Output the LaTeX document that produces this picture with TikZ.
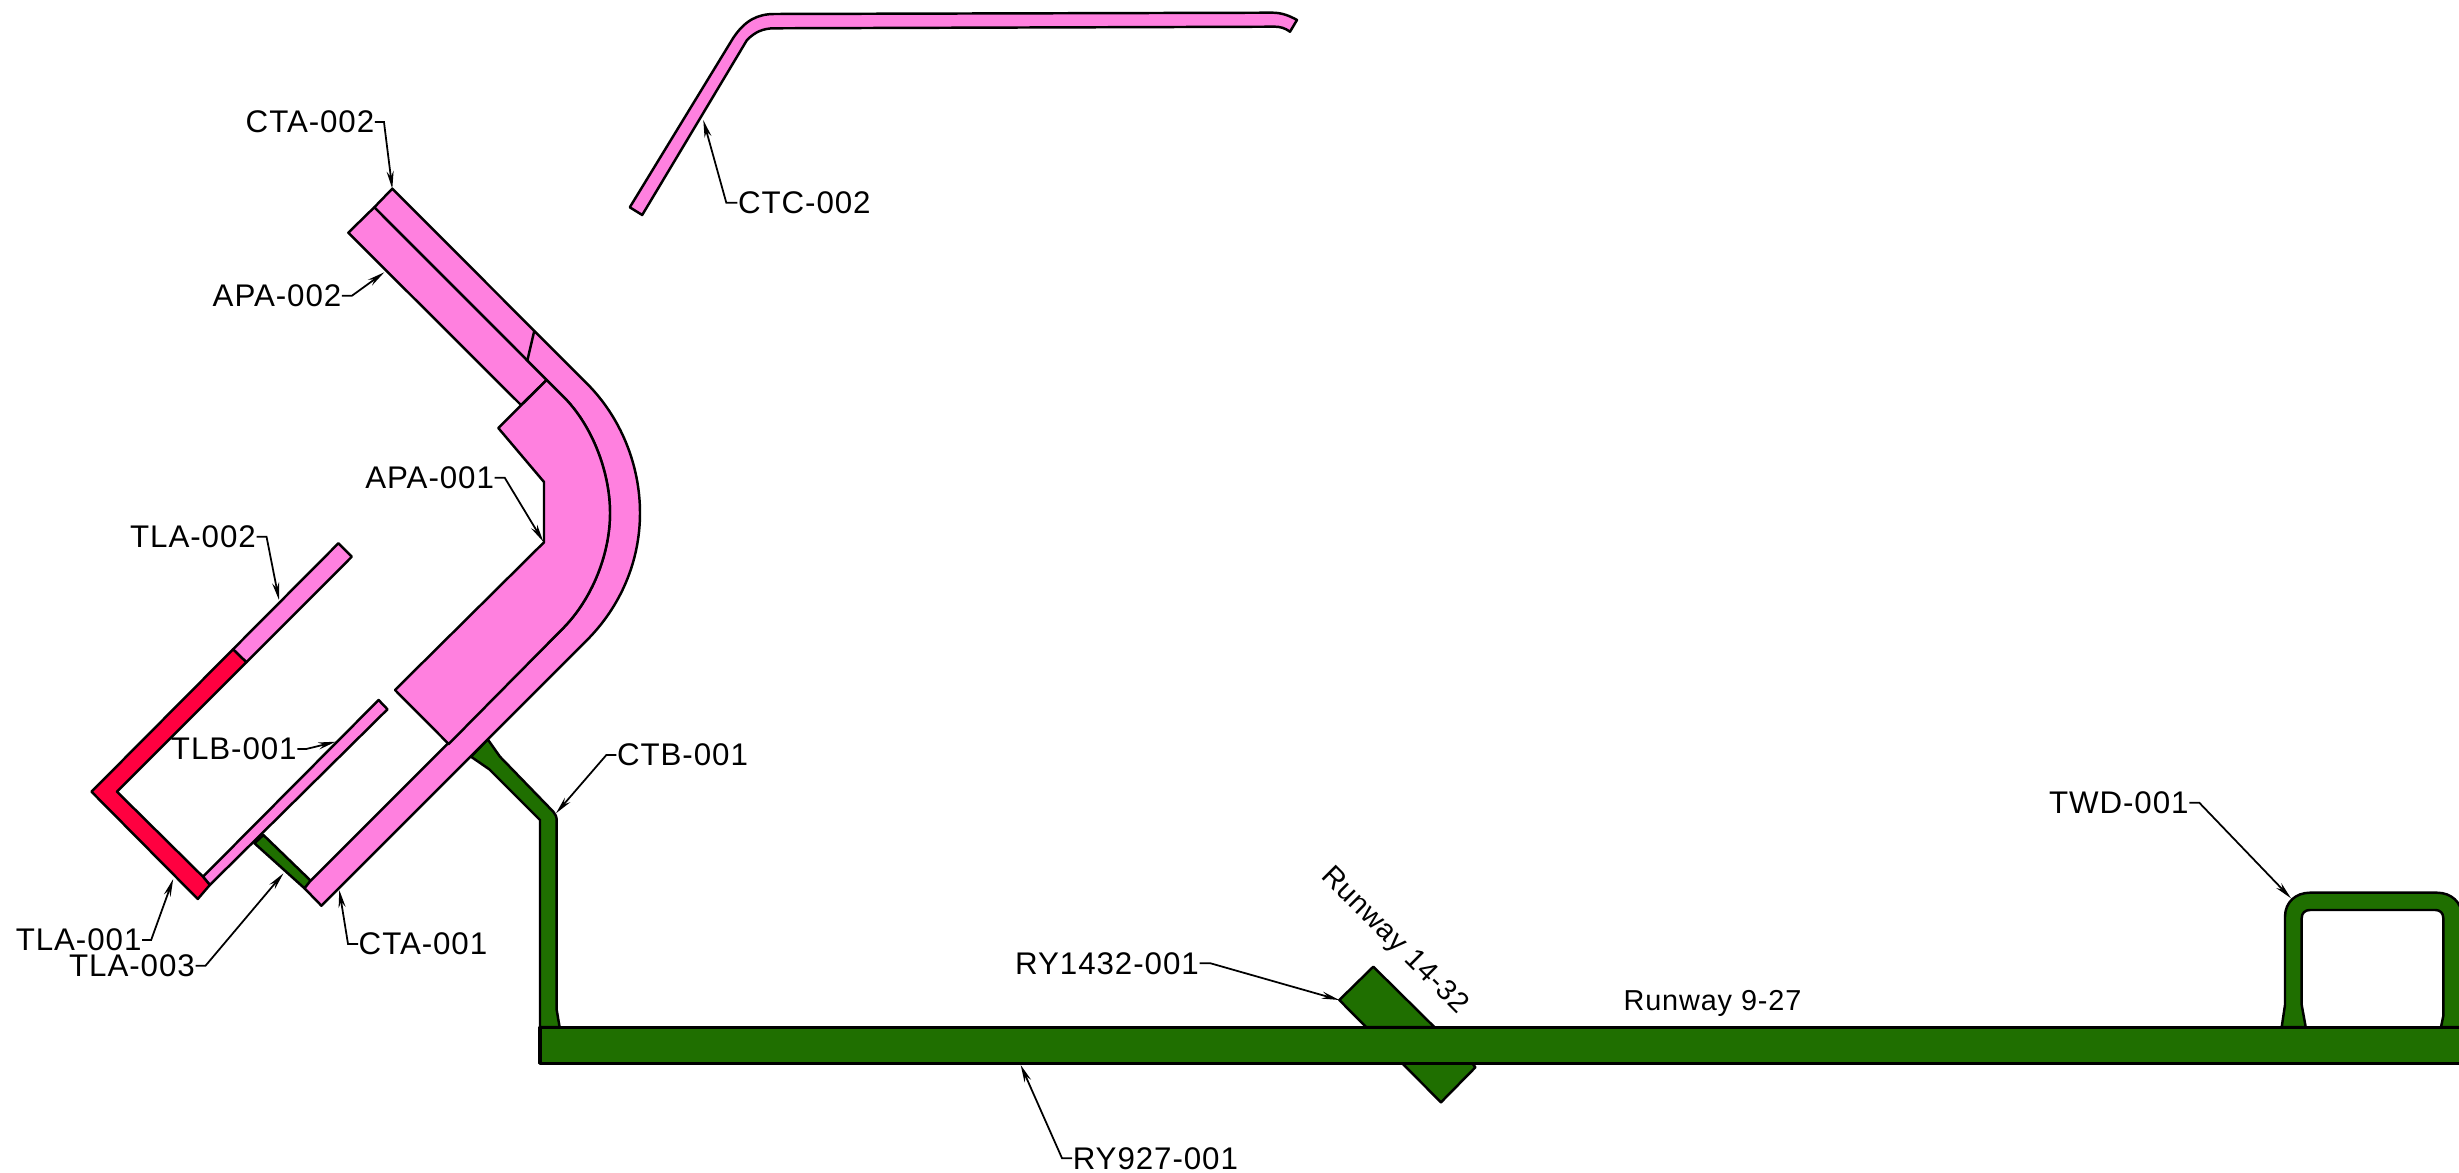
\documentclass[tikz,border=0pt]{standalone}
\usepackage{fontspec}
\setmainfont[LetterSpace=3]{Liberation Sans}
\usetikzlibrary{arrows.meta}
\definecolor{apapink}{HTML}{FF80DF}
\definecolor{tlared}{HTML}{FF0040}
\definecolor{rwygreen}{HTML}{1F6F00}
\tikzset{
	pinkarea/.style={fill=apapink,draw=black,line width=0.7pt,line join=round},
	redarea/.style={fill=tlared,draw=black,line width=0.7pt,line join=round},
	greenarea/.style={fill=rwygreen,draw=black,line width=0.7pt,line join=round},
	lbl/.style={inner sep=0pt,font=\fontsize{8.9pt}{10pt}\selectfont},
	rwylbl/.style={inner sep=0pt,font=\fontsize{8.2pt}{10pt}\selectfont},
	leader/.style={draw=black,line width=0.5pt,-{Stealth[length=5pt,width=2pt]}}
}
\begin{document}
\begin{tikzpicture}[x=0.01cm,y=-0.01cm]
	\useasboundingbox (0,0) rectangle (2459,1173);
	% green taxiways, under the runway and the aprons
	\draw[greenarea] (254.5,843.3) -- (263.4,835) -- (311,881) -- (304.5,888.3) -- cycle;
	\draw[greenarea] (487.7,739.3) -- (500,756.7) -- (553.3,811.7) .. controls (555.5,814) and (556.7,817) .. (556.7,820.7) -- (556.7,1010) -- (559.6,1027) -- (540,1027) -- (540,820) -- (489.3,769.3) -- (471,756.7) -- cycle;
	\draw[greenarea] (1373.3,966.7) -- (1339.3,1000) -- (1366,1027) -- (1434.3,1027) -- cycle;
	\draw[greenarea] (1401.8,1063) -- (1441,1102.3) -- (1475.4,1067.3) -- (1472,1063) -- cycle;
	\draw[greenarea] (2281.7,1027) -- (2285,1005) -- (2285,916.7) .. controls (2285,902) and (2296,892.7) .. (2310,892.7) -- (2437,892.7) .. controls (2451,892.7) and (2462,902) .. (2462,916.7) -- (2462,1027) -- (2441,1027) -- (2443.3,1016) -- (2443.3,918) .. controls (2443.3,913) and (2440,910) .. (2435.3,910) -- (2310,910) .. controls (2305,910) and (2301.7,913) .. (2301.7,918) -- (2301.7,1005) -- (2305.7,1027) -- cycle;
	\draw[greenarea,line width=0.9pt] (540,1027.3) rectangle (2470,1063.3);
	% red and pink strips at the terminal
	\draw[pinkarea] (338.4,543.3) -- (351.8,556.7) -- (246.4,662.3) -- (233,649.3) -- cycle;
	\draw[pinkarea] (378.6,700) -- (387.5,709.3) -- (209.8,885) -- (203,876.7) -- cycle;
	\draw[redarea] (91.5,791.7) -- (233,649.3) -- (246.4,662.3) -- (117,791.7) -- (203,876.7) -- (209.8,885) -- (197.8,899) -- cycle;
	% aprons
	\draw[pinkarea] (392.3,188.7) -- (586.7,383.3) .. controls (620.8,417.4) and (640,465) .. (640,513) .. controls (640,561) and (620.8,606.3) .. (586.7,640.4) -- (321.4,905.7) -- (304.5,888.3) -- (310.3,881) -- (563,628.3) .. controls (592,599) and (610,554) .. (610,513) .. controls (610,472) and (592,425) .. (563,396.3) -- (374.3,207.3) -- cycle;
	\draw[pinkarea] (374.3,207.3) -- (546.7,380) -- (521,405) -- (348.3,232.7) -- cycle;
	\draw[pinkarea] (546.7,380) -- (563,396.3) .. controls (592,425) and (610,472) .. (610,513) .. controls (610,554) and (592,599) .. (563,628.3) -- (448.7,744) -- (395,690) -- (544,542.3) -- (544,482) -- (498.3,428) -- cycle;
	\draw[line width=0.7pt] (534.3,330.7) -- (527.3,360.7);
	\draw[pinkarea] (629.8,207.3) -- (733,38.3) .. controls (745,20) and (758,14) .. (774.5,14) -- (1272.6,12.7) .. controls (1282,12.7) and (1290,16) .. (1297,20) -- (1290,31.7) .. controls (1285,28) and (1280,26.7) .. (1275,26.7) -- (774.5,28.3) .. controls (763,28.3) and (755,32) .. (747,40) -- (642.2,215) -- cycle;
	% arrow ends
	\coordinate (tipcta2) at (392.3,188.7);
	\coordinate (tipapa2) at (384.3,272.3);
	\coordinate (tipapa1) at (543.3,541.7);
	\coordinate (tiptla2) at (279,600);
	\coordinate (tiptlb1) at (335.7,741.7);
	\coordinate (tiptla1) at (173.2,879);
	\coordinate (tiptla3) at (283.5,873.3);
	\coordinate (tipcta1) at (339.3,890);
	\coordinate (tipctb1) at (556,813.3);
	\coordinate (tipctc2) at (703.3,120);
	\coordinate (tipry14) at (1339.3,1000);
	\coordinate (tipry9) at (1020.7,1065);
	\coordinate (tiptwd1) at (2291,898.3);
	% labels
	\node[lbl] (cta2) at (310,122) {CTA-002};
	\node[lbl] (apa2) at (277,295.7) {APA-002};
	\node[lbl] (apa1) at (429.7,477.7) {APA-001};
	\node[lbl] (tla2) at (193,536.7) {TLA-002};
	\node[lbl] (tlb1) at (233.8,749) {TLB-001};
	\node[lbl] (tla1) at (78.6,940) {TLA-001};
	\node[lbl] (tla3) at (132,965.7) {TLA-003};
	\node[lbl] (cta1) at (423,944) {CTA-001};
	\node[lbl] (ctb1) at (682.5,755) {CTB-001};
	\node[lbl] (ctc2) at (804.3,202.7) {CTC-002};
	\node[lbl] (ry14) at (1107,963.3) {RY1432-001};
	\node[lbl] (ry9) at (1155.4,1158.3) {RY927-001};
	\node[lbl] (twd1) at (2118.8,802.7) {TWD-001};
	\node[rwylbl] (rwy9) at (1712.5,1003) {Runway 9-27};
	\node[rwylbl,rotate=-45] (rwy14) at (1394,941) {Runway 14-32};
	% leaders
	\draw[leader] (cta2.east) -- ++(9,0) -- (tipcta2);
	\draw[leader] (apa2.east) -- ++(10,0) -- (tipapa2);
	\draw[leader] (apa1.east) -- ++(10,0) -- (tipapa1);
	\draw[leader] (tla2.east) -- ++(10,0) -- (tiptla2);
	\draw[leader] (tlb1.east) -- ++(9,0) -- (tiptlb1);
	\draw[leader] (tla1.east) -- ++(9,0) -- (tiptla1);
	\draw[leader] (tla3.east) -- ++(10,0) -- (tiptla3);
	\draw[leader] (cta1.west) -- ++(-10,0) -- (tipcta1);
	\draw[leader] (ctb1.west) -- ++(-10,0) -- (tipctb1);
	\draw[leader] (ctc2.west) -- ++(-11,0) -- (tipctc2);
	\draw[leader] (ry14.east) -- ++(11,0) -- (tipry14);
	\draw[leader] (ry9.west) -- ++(-10,0) -- (tipry9);
	\draw[leader] (twd1.east) -- ++(10,0) -- (tiptwd1);
\end{tikzpicture}
\end{document}
